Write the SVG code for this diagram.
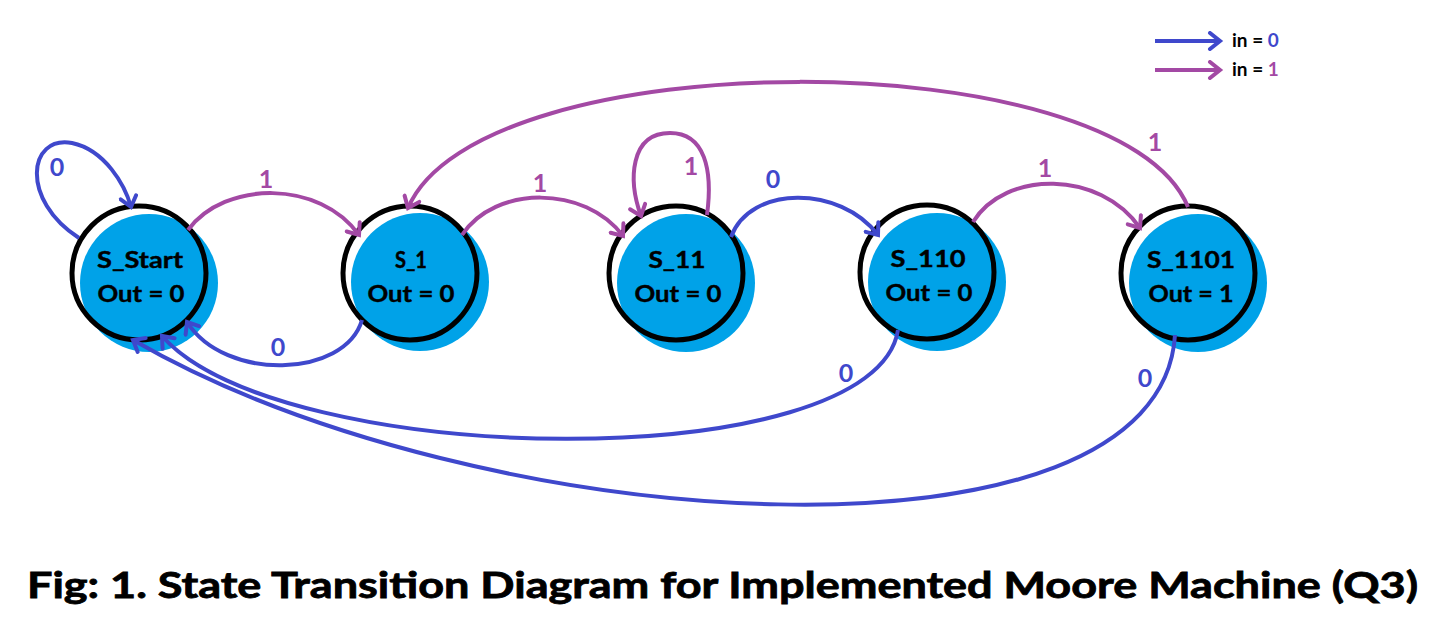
<svg xmlns="http://www.w3.org/2000/svg" width="1448" height="644" viewBox="0 0 1448 644">
<style>
.ring{fill:#fff;stroke:none}
.blob{fill:#00A2E8}
.edge{stroke:#000;stroke-width:5;fill:none}
.st{font-family:Lato,"Open Sans",sans-serif;font-weight:bold;font-size:22px;fill:#000;text-anchor:middle;stroke:#000;stroke-width:0.4}
.c0{fill:none;stroke:#3F48CC;stroke-width:4}
.c1{fill:none;stroke:#A349A4;stroke-width:4}
.l0{font-family:Lato,sans-serif;font-weight:bold;font-size:25px;fill:#3F48CC;text-anchor:middle}
.l1{font-family:Lato,sans-serif;font-weight:bold;font-size:25px;fill:#A349A4;text-anchor:middle}
.lg{font-family:Lato,sans-serif;font-weight:bold;font-size:19px;fill:#000}
</style>
<defs>
<marker id="a0" markerUnits="userSpaceOnUse" markerWidth="20" markerHeight="20" viewBox="0 0 20 20" refX="14" refY="10" orient="auto">
<path d="M4,2 L14,10 L4,18" fill="none" stroke="#3F48CC" stroke-width="4" stroke-linecap="round"/>
</marker>
<marker id="a1" markerUnits="userSpaceOnUse" markerWidth="20" markerHeight="20" viewBox="0 0 20 20" refX="14" refY="10" orient="auto">
<path d="M4,2 L14,10 L4,18" fill="none" stroke="#A349A4" stroke-width="4" stroke-linecap="round"/>
</marker>
</defs>
<rect width="1448" height="644" fill="#fff"/>

<g id="S_Start">
<circle class="ring" cx="139" cy="273" r="67"/>
<circle class="blob" cx="149" cy="283" r="69"/>
<circle class="edge" cx="139" cy="273" r="67"/>
<text class="st" x="140" y="268" textLength="86" lengthAdjust="spacingAndGlyphs">S_Start</text>
<text class="st" x="141" y="302" textLength="87" lengthAdjust="spacingAndGlyphs">Out = 0</text>
</g>
<g id="S_1">
<circle class="ring" cx="410" cy="273" r="67"/>
<circle class="blob" cx="420" cy="282" r="69"/>
<circle class="edge" cx="410" cy="273" r="67"/>
<text class="st" x="411" y="268" textLength="32" lengthAdjust="spacingAndGlyphs">S_1</text>
<text class="st" x="411" y="302" textLength="87" lengthAdjust="spacingAndGlyphs">Out = 0</text>
</g>
<g id="S_11">
<circle class="ring" cx="676" cy="273" r="67"/>
<circle class="blob" cx="686" cy="283" r="69"/>
<circle class="edge" cx="676" cy="273" r="67"/>
<text class="st" x="677" y="268" textLength="57" lengthAdjust="spacingAndGlyphs">S_11</text>
<text class="st" x="678" y="302" textLength="87" lengthAdjust="spacingAndGlyphs">Out = 0</text>
</g>
<g id="S_110">
<circle class="ring" cx="927" cy="272" r="67"/>
<circle class="blob" cx="937" cy="282" r="69"/>
<circle class="edge" cx="927" cy="272" r="67"/>
<text class="st" x="928" y="267" textLength="75" lengthAdjust="spacingAndGlyphs">S_110</text>
<text class="st" x="929" y="301" textLength="87" lengthAdjust="spacingAndGlyphs">Out = 0</text>
</g>
<g id="S_1101">
<circle class="ring" cx="1188" cy="273" r="67"/>
<circle class="blob" cx="1198" cy="283" r="69"/>
<circle class="edge" cx="1188" cy="273" r="67"/>
<text class="st" x="1191" y="268" textLength="88" lengthAdjust="spacingAndGlyphs">S_1101</text>
<text class="st" x="1191" y="302" textLength="85" lengthAdjust="spacingAndGlyphs">Out = 1</text>
</g>

<g id="connectors">
<path class="c0" marker-end="url(#a0)" d="M79 238 C20 200 28 135 72 143 C105 150 125 185 131 207"/>
<path class="c1" marker-end="url(#a1)" d="M188 230 C225 180 320 180 359 235"/>
<path class="c1" marker-end="url(#a1)" d="M462 235 C495 185 585 185 623 236"/>
<path class="c1" marker-end="url(#a1)" d="M707 215 C713 170 705 133 670 133 C630 133 628 180 641 216"/>
<path class="c0" marker-end="url(#a0)" d="M731 237 C750 185 840 185 878 235"/>
<path class="c1" marker-end="url(#a1)" d="M973 222 C1005 170 1100 170 1140 228"/>
<path class="c1" marker-end="url(#a1)" d="M1188 207 C1120 40 480 40 408 208"/>
<path class="c0" marker-end="url(#a0)" d="M362 320 C345 378 225 382 187 322"/>
<path class="c0" marker-end="url(#a0)" d="M898 330 C875 478 280 470 162 336"/>
<path class="c0" marker-end="url(#a0)" d="M1175 335 C1160 580 480 540 133 340"/>
<text class="l0" x="57" y="176">0</text>
<text class="l1" x="266" y="188">1</text>
<text class="l1" x="540" y="192">1</text>
<text class="l1" x="691" y="175">1</text>
<text class="l0" x="773" y="188">0</text>
<text class="l1" x="1045" y="177">1</text>
<text class="l1" x="1155" y="151">1</text>
<text class="l0" x="278" y="356">0</text>
<text class="l0" x="846" y="382">0</text>
<text class="l0" x="1145" y="387">0</text>
</g>

<g id="legend">
<line class="c0" x1="1155" y1="41" x2="1220" y2="41" marker-end="url(#a0)"/>
<line class="c1" x1="1155" y1="70" x2="1220" y2="70" marker-end="url(#a1)"/>
<text class="lg" x="1232" y="47">in = <tspan fill="#3F48CC">0</tspan></text>
<text class="lg" x="1232" y="76">in = <tspan fill="#A349A4">1</tspan></text>
</g>

<text x="27" y="598" font-family="Lato,sans-serif" font-weight="bold" font-size="36" stroke="#000" stroke-width="0.8" textLength="1391" lengthAdjust="spacingAndGlyphs" fill="#000">Fig: 1. State Transition Diagram for Implemented Moore Machine (Q3)</text>
</svg>
